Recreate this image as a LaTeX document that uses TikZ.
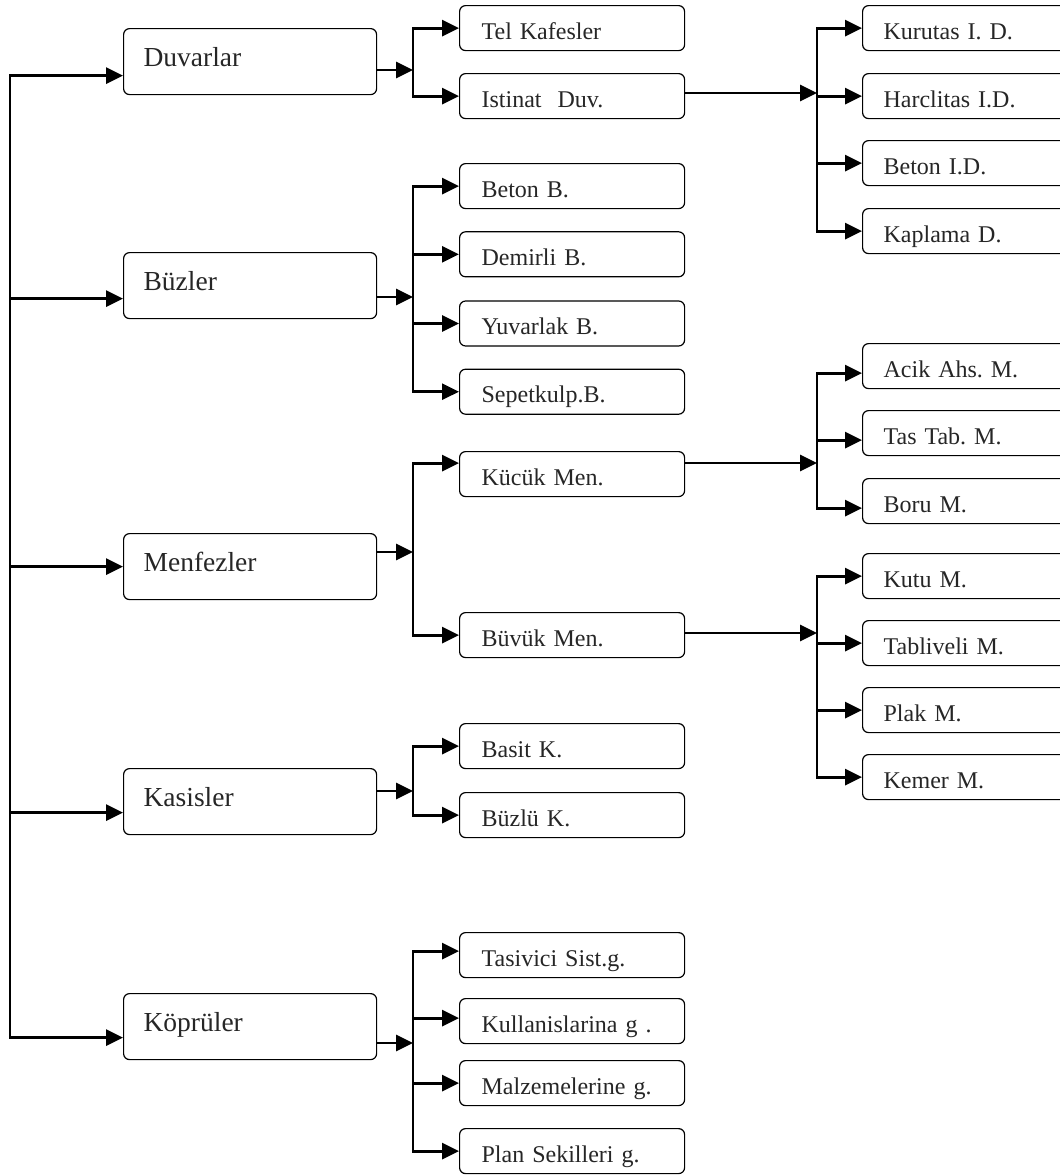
\documentclass[tikz,border=0pt]{standalone}
\usepackage{fontspec}
\setmainfont{Liberation Serif}
\usetikzlibrary{arrows.meta,positioning}
\frenchspacing

\begin{document}
\begin{tikzpicture}[
  x=1pt, y=-1pt,
  box/.style={draw=black, rounded corners=6pt, line width=1.2pt, anchor=north west,
    align=left, text=black!85},
  main/.style={box, minimum height=66pt, inner xsep=20pt, text width=213pt,
    font=\fontsize{27.5}{30}\selectfont, text height=16pt, text depth=6pt},
  sub/.style={box, minimum height=45pt, inner xsep=22pt, text width=181pt,
    font=\fontsize{24}{28}\selectfont, text height=24pt, text depth=2pt},
  leaf/.style={sub, inner xsep=21pt, text width=220pt},
  wire/.style={line width=2.4pt, line cap=rect},
  arr/.style={wire, line width=2.8pt, -{Triangle[length=17pt,width=16pt]}}
]
  \useasboundingbox (0,0) rectangle (1060,1176);
  \clip (0,0) rectangle (1060,1176);

  % main groups
  \node[main] (duv) at (123,28) {Duvarlar};
  \node[main] (buz) at (123,252) {Büzler};
  \node[main] (men) at (123,533) {Menfezler};
  \node[main] (kas) at (123,768) {Kasisler};
  \node[main] (kop) at (123,993) {Köprüler};

  % second level
  \node[sub] (tel) at (459,5) {Tel Kafesler};
  \node[sub] (ist) at (459,73) {Istinat\ \ Duv.};
  \node[sub] (btn) at (459,163) {Beton B.};
  \node[sub, below=22pt of btn] (dem) {Demirli B.};
  \node[sub, below=23pt of dem] (yuv) {Yuvarlak B.};
  \node[sub, below=22pt of yuv] (sep) {Sepetkulp.B.};
  \node[sub] (kuc) at (459,451) {Kücük Men.};
  \node[sub] (buy) at (459,612) {Büvük Men.};
  \node[sub] (bas) at (459,723) {Basit K.};
  \node[sub] (bzk) at (459,792) {Büzlü K.};
  \node[sub] (tas) at (459,932) {Tasivici Sist.g.};
  \node[sub] (kul) at (459,998) {Kullanislarina g .};
  \node[sub] (mal) at (459,1060) {Malzemelerine g.};
  \node[sub] (pla) at (459,1128) {Plan Sekilleri g.};

  % third level
  \node[leaf] (kur) at (862,5) {Kurutas I. D.};
  \node[leaf] (har) at (862,73) {Harclitas I.D.};
  \node[leaf] (bid) at (862,140) {Beton I.D.};
  \node[leaf] (kap) at (862,208) {Kaplama D.};
  \node[leaf] (aci) at (862,343) {Acik Ahs. M.};
  \node[leaf] (ttb) at (862,410) {Tas Tab. M.};
  \node[leaf] (bor) at (862,478) {Boru M.};
  \node[leaf] (kut) at (862,553) {Kutu M.};
  \node[leaf] (tab) at (862,620) {Tabliveli M.};
  \node[leaf] (plk) at (862,687) {Plak M.};
  \node[leaf] (kem) at (862,754) {Kemer M.};

  % junction points
  \coordinate (rail) at (10,0);
  \coordinate (jduv) at (413,70);
  \coordinate (jbuz) at (413,297);
  \coordinate (jmen) at (413,552);
  \coordinate (jkas) at (413,791);
  \coordinate (jkop) at (413,1043);
  \coordinate (jist) at (817,93);
  \coordinate (jkuc) at (817,463);
  \coordinate (jbuy) at (817,633);

  % left rail
  \draw[wire] ([yshift=-14pt]duv.west -| rail) -- ([yshift=-11pt]kop.west -| rail);
  \draw[arr] ([yshift=-14pt]duv.west -| rail) -- ([yshift=-14pt]duv.west);
  \draw[arr] ([yshift=-13pt]buz.west -| rail) -- ([yshift=-13pt]buz.west);
  \draw[arr] (men.west -| rail) -- (men.west);
  \draw[arr] ([yshift=-11pt]kas.west -| rail) -- ([yshift=-11pt]kas.west);
  \draw[arr] ([yshift=-11pt]kop.west -| rail) -- ([yshift=-11pt]kop.west);

  % Duvarlar
  \draw[arr] (duv.east |- jduv) -- (jduv);
  \draw[wire] (jduv |- tel.west) -- (jduv |- ist.west);
  \draw[arr] (jduv |- tel.west) -- (tel.west);
  \draw[arr] (jduv |- ist.west) -- (ist.west);
  \draw[arr] (ist.east |- jist) -- (jist);
  \draw[wire] (jist |- kur.west) -- (jist |- kap.west);
  \draw[arr] (jist |- kur.west) -- (kur.west);
  \draw[arr] (jist |- har.west) -- (har.west);
  \draw[arr] (jist |- bid.west) -- (bid.west);
  \draw[arr] (jist |- kap.west) -- (kap.west);

  % Buzler
  \draw[arr] (buz.east |- jbuz) -- (jbuz);
  \draw[wire] (jbuz |- btn.west) -- (jbuz |- sep.west);
  \draw[arr] (jbuz |- btn.west) -- (btn.west);
  \draw[arr] (jbuz |- dem.west) -- (dem.west);
  \draw[arr] (jbuz |- yuv.west) -- (yuv.west);
  \draw[arr] (jbuz |- sep.west) -- (sep.west);

  % Menfezler
  \draw[arr] (men.east |- jmen) -- (jmen);
  \draw[wire] ([yshift=11pt]kuc.west -| jmen) -- (jmen |- buy.west);
  \draw[arr] ([yshift=11pt]kuc.west -| jmen) -- ([yshift=11pt]kuc.west);
  \draw[arr] (jmen |- buy.west) -- (buy.west);
  \draw[arr] (kuc.east |- jkuc) -- (jkuc);
  \draw[wire] ([yshift=-7pt]aci.west -| jkuc) -- ([yshift=-7pt]bor.west -| jkuc);
  \draw[arr] ([yshift=-7pt]aci.west -| jkuc) -- ([yshift=-7pt]aci.west);
  \draw[arr] ([yshift=-7pt]ttb.west -| jkuc) -- ([yshift=-7pt]ttb.west);
  \draw[arr] ([yshift=-7pt]bor.west -| jkuc) -- ([yshift=-7pt]bor.west);
  \draw[arr] (buy.east |- jbuy) -- (jbuy);
  \draw[wire] (jbuy |- kut.west) -- (jbuy |- kem.west);
  \draw[arr] (jbuy |- kut.west) -- (kut.west);
  \draw[arr] (jbuy |- tab.west) -- (tab.west);
  \draw[arr] (jbuy |- plk.west) -- (plk.west);
  \draw[arr] (jbuy |- kem.west) -- (kem.west);

  % Kasisler
  \draw[arr] (kas.east |- jkas) -- (jkas);
  \draw[wire] (jkas |- bas.west) -- (jkas |- bzk.west);
  \draw[arr] (jkas |- bas.west) -- (bas.west);
  \draw[arr] (jkas |- bzk.west) -- (bzk.west);

  % Kopruler
  \draw[arr] (kop.east |- jkop) -- (jkop);
  \draw[wire] ([yshift=4pt]tas.west -| jkop) -- (jkop |- pla.west);
  \draw[arr] ([yshift=4pt]tas.west -| jkop) -- ([yshift=4pt]tas.west);
  \draw[arr] ([yshift=3pt]kul.west -| jkop) -- ([yshift=3pt]kul.west);
  \draw[arr] (jkop |- mal.west) -- (mal.west);
  \draw[arr] (jkop |- pla.west) -- (pla.west);
\end{tikzpicture}
\end{document}
